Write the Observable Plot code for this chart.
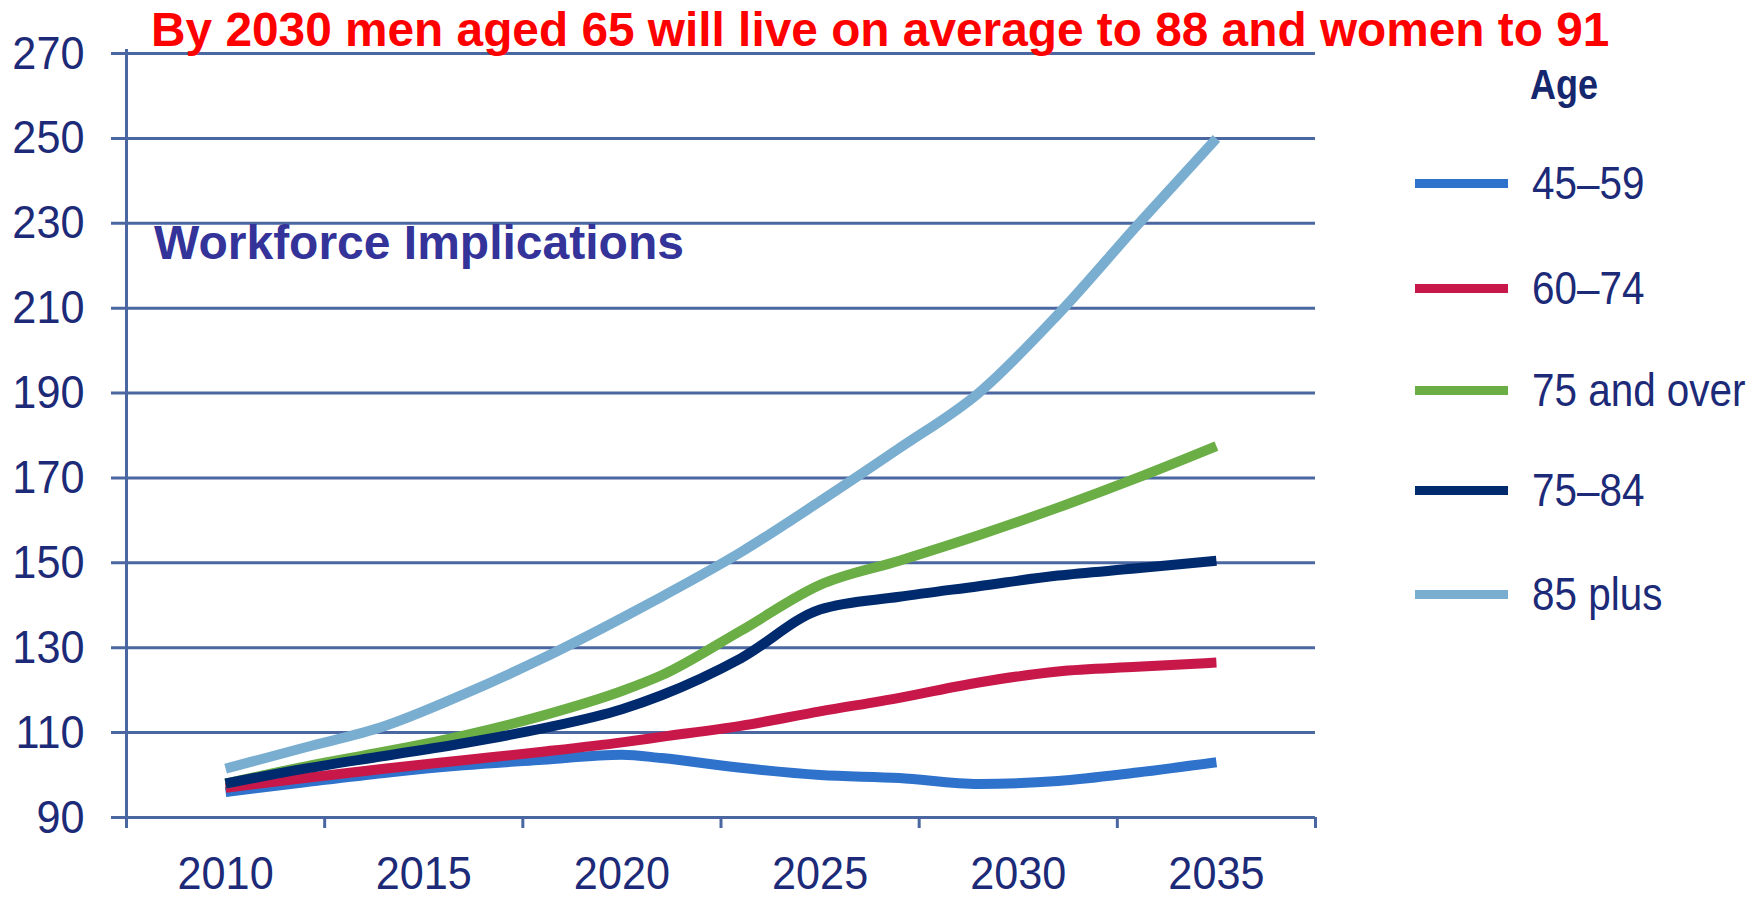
<!DOCTYPE html>
<html>
<head>
<meta charset="utf-8">
<script src="https://cdn.jsdelivr.net/npm/d3@7"></script>
<script src="https://cdn.jsdelivr.net/npm/@observablehq/plot@0.6"></script>
<style>
  html, body { margin: 0; padding: 0; background: #ffffff; }
  #wrap { position: relative; width: 1758px; height: 898px; overflow: hidden; background: #fff; }
  #chart { position: absolute; left: 0; top: 0; }
  .title { position: absolute; left: 151px; top: 6px; font: bold 47.8px/1 "Liberation Sans", Arial, sans-serif; color: #ff0000; white-space: nowrap; }
  .sub { position: absolute; left: 154px; top: 218.5px; font: bold 48px/1 "Liberation Sans", Arial, sans-serif; color: #333399; white-space: nowrap; }
  .legtitle { position: absolute; left: 1530px; top: 63.5px; font: bold 42px/1 "Liberation Sans", Arial, sans-serif; color: #15276e; white-space: nowrap; transform: scaleX(0.857); transform-origin: 0 50%; }
  .item { position: absolute; left: 1415px; height: 48px; display: flex; align-items: center; white-space: nowrap; }
  .sw { width: 93px; height: 9px; margin-right: 24px; flex: none; }
  .lab { display: inline-block; font: 47px/48px "Liberation Sans", Arial, sans-serif; color: #1c2a78; transform: scaleX(0.86); transform-origin: 0 50%; }
</style>
</head>
<body>
<div id="wrap">
  <div id="chart"></div>
  <div class="title">By 2030 men aged 65 will live on average to 88 and women to 91</div>
  <div class="sub">Workforce Implications</div>
  <div class="legtitle">Age</div>
  <div id="legend"></div>
</div>
<script>
// ---- data ----
const years = [2010, 2012, 2014, 2016, 2018, 2020, 2021, 2023, 2025, 2027, 2029, 2031, 2033, 2035];
const age45to59   = [96.0, 98.3, 100.5, 102.3, 103.6, 104.8, 104.0, 101.7, 100.0, 99.3, 97.9, 98.6, 100.6, 103.0];
const age60to74   = [97.0, 99.3, 101.5, 103.5, 105.5, 107.7, 109.0, 111.6, 115.0, 118.2, 121.8, 124.4, 125.5, 126.5];
const age75over   = [98.0, 102.0, 105.5, 109.3, 114.0, 119.8, 123.5, 134.0, 144.8, 150.5, 156.5, 163.0, 170.0, 177.5];
const age75to84   = [98.0, 101.5, 104.5, 107.5, 111.0, 115.5, 118.8, 127.5, 139.0, 142.0, 144.5, 147.0, 148.7, 150.5];
const age85plus   = [101.5, 106.5, 111.5, 119.0, 127.5, 137.0, 142.0, 152.5, 164.5, 177.0, 190.0, 208.5, 229.5, 250.0];

const seriesNames  = ["45\u201359", "60\u201374", "75 and over", "75\u201384", "85 plus"];
const seriesValues = [age45to59, age60to74, age75over, age75to84, age85plus];
const seriesColors = ["#2e72cc", "#c8184a", "#6aae45", "#002a6e", "#7aaed0"];

const yTicks   = [90, 110, 130, 150, 170, 190, 210, 230, 250, 270];
const xLabels  = [2010, 2015, 2020, 2025, 2030, 2035];
const xBounds  = [2007.5, 2012.5, 2017.5, 2022.5, 2027.5, 2032.5, 2037.5];

// ---- styles ----
const axisColor  = "#4a67a1";
const labelColor = "#1c2a78";
const tickFont   = "'Liberation Sans', Arial, sans-serif";

const rows = seriesNames.flatMap((name, s) =>
  years.map((yr, i) => ({series: name, year: yr, value: seriesValues[s][i]})));

const chart = Plot.plot({
  width: 1758,
  height: 898,
  marginLeft: 126,
  marginRight: 443,
  marginTop: 53,
  marginBottom: 81,
  x: {domain: [xBounds[0], xBounds[xBounds.length - 1]], label: null},
  y: {domain: [yTicks[0], yTicks[yTicks.length - 1]], label: null},
  color: {domain: seriesNames, range: seriesColors},
  style: {fontFamily: tickFont, fontSize: "47px", background: "transparent", color: labelColor},
  marks: [
    Plot.ruleY(yTicks, {stroke: axisColor, strokeWidth: 3, insetLeft: -15}),
    Plot.ruleX([xBounds[0]], {stroke: axisColor, strokeWidth: 3, insetTop: -4, insetBottom: -11}),
    Plot.axisX({ticks: xBounds, tickSize: 11, tickFormat: () => "", stroke: axisColor, strokeWidth: 3, label: null}),
    Plot.axisX({ticks: xLabels, tickSize: 0, tickPadding: 38, tickFormat: d => String(d), fill: labelColor, fontSize: 47, label: null}),
    Plot.axisY({ticks: yTicks, tickSize: 0, tickPadding: 42, tickFormat: d => String(d), fill: labelColor, fontSize: 47, label: null}),
    Plot.line(rows, {x: "year", y: "value", z: "series", stroke: "series", strokeWidth: 10, curve: "monotone-x", strokeLinecap: "butt", strokeLinejoin: "round"})
  ]
});
document.getElementById("chart").appendChild(chart);

// narrow the tick label glyphs horizontally (the reference uses a condensed face)
function condense(root, selector, s) {
  root.querySelectorAll(selector).forEach(t => {
    const tr = t.getAttribute("transform") || "";
    const x = t.getAttribute("x");
    let pre = "";
    if (x !== null && x !== "" && !isNaN(+x)) {
      pre = ` translate(${+x},0)`;
      t.removeAttribute("x");
    }
    t.setAttribute("transform", (tr + pre + ` scale(${s},1)`).trim());
  });
}
condense(chart, 'g[aria-label="x-axis tick label"] text, g[aria-label="y-axis tick label"] text', 0.92);

// ---- legend ----
const legendTops = [159, 264, 366, 466, 570];
const legend = document.getElementById("legend");
seriesNames.forEach((name, i) => {
  const item = document.createElement("div");
  item.className = "item";
  item.style.top = legendTops[i] + "px";
  const sw = document.createElement("div");
  sw.className = "sw";
  sw.style.background = seriesColors[i];
  const lab = document.createElement("span");
  lab.className = "lab";
  lab.textContent = name;
  item.appendChild(sw);
  item.appendChild(lab);
  legend.appendChild(item);
});
</script>
</body>
</html>
